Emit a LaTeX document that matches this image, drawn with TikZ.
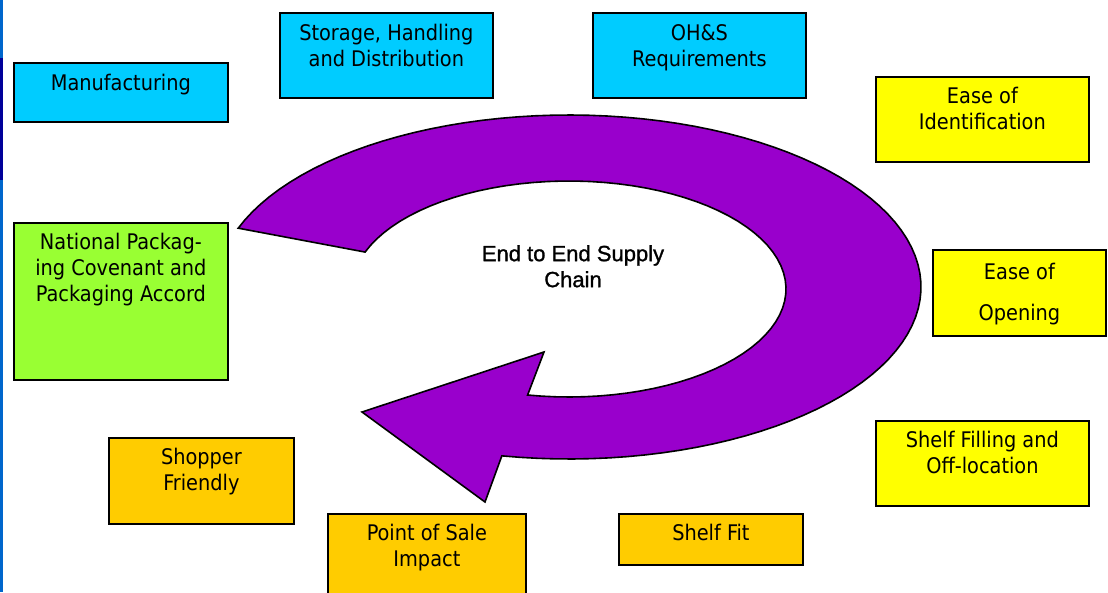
\documentclass[tikz,border=0pt]{standalone}
\usepackage{fontspec}
\setmainfont{DejaVu Sans Condensed}
\newfontfamily\chainfont[FakeBold=1.2]{Liberation Sans}
\usepackage{tikz}
\definecolor{skyfill}{HTML}{00CCFF}
\definecolor{lemonfill}{HTML}{FFFF00}
\definecolor{limefill}{HTML}{99FF33}
\definecolor{goldfill}{HTML}{FFCC00}
\definecolor{loopfill}{HTML}{9900CC}
\definecolor{edgeblue}{HTML}{0066CC}
\definecolor{edgenavy}{HTML}{000099}

\begin{document}
\begin{tikzpicture}[x=1pt,y=-1pt,line join=miter,box/.style={draw=black,line width=1.8pt,anchor=north west,inner sep=0pt},txt/.style={anchor=north,align=center,inner sep=0pt,font=\fontsize{21.5}{26}\selectfont},midtxt/.style={anchor=north,align=center,inner sep=0pt,font=\chainfont\fontsize{22}{26}\selectfont}]
\useasboundingbox (0,0) rectangle (1108,592);
\fill[edgeblue] (0,0) rectangle (2.5,592);
\fill[edgenavy] (0,58) rectangle (2.5,180);
\filldraw[fill=loopfill,line width=1.6pt] plot[domain=200:461,samples=90] ({569+352*cos(\x)},{287+172*sin(\x)}) -- (485,502) -- (362,412) -- (544,352) -- plot[domain=461:200,samples=70] ({569+217*cos(\x)},{289+108*sin(\x)}) -- cycle;
\node[midtxt] (chain) at (573,245) {End to End Supply\\Chain};
\node[box,fill=skyfill,minimum width=214pt,minimum height=59pt] (manuf) at (13,62) {};
\node[txt] at ([yshift=-12pt]manuf.north) {Manufacturing};
\node[box,fill=skyfill,minimum width=213pt,minimum height=85pt] (storage) at (279,12) {};
\node[txt] at ([yshift=-12pt]storage.north) {Storage, Handling\\and Distribution};
\node[box,fill=skyfill,minimum width=213pt,minimum height=85pt] (ohs) at (592,12) {};
\node[txt] at ([yshift=-12pt]ohs.north) {OH\&S\\Requirements};
\node[box,fill=lemonfill,minimum width=213pt,minimum height=85pt] (ident) at (875,76) {};
\node[txt] at ([yshift=-11pt]ident.north) {Ease of\\Identification};
\node[box,fill=lemonfill,minimum width=173pt,minimum height=86pt] (opening) at (932,249) {};
\node[txt] at ([yshift=-14pt]opening.north) {Ease of\\[15pt]Opening};
\node[box,fill=lemonfill,minimum width=213pt,minimum height=85pt] (filling) at (875,420) {};
\node[txt] at ([yshift=-11pt]filling.north) {Shelf Filling and\\Off-location};
\node[box,fill=goldfill,minimum width=184pt,minimum height=51pt] (fit) at (618,513) {};
\node[txt] at ([yshift=-11pt]fit.north) {Shelf Fit};
\node[box,fill=goldfill,minimum width=198pt,minimum height=100pt] (sale) at (327,513) {};
\node[txt] at ([yshift=-11pt]sale.north) {Point of Sale\\Impact};
\node[box,fill=goldfill,minimum width=185pt,minimum height=86pt] (shopper) at (108,437) {};
\node[txt] at ([yshift=-11pt]shopper.north) {Shopper\\Friendly};
\node[box,fill=limefill,minimum width=214pt,minimum height=157pt] (covenant) at (13,222) {};
\node[txt] at ([yshift=-11pt]covenant.north) {National Packag-\\ing Covenant and\\Packaging Accord};
\end{tikzpicture}
\end{document}
